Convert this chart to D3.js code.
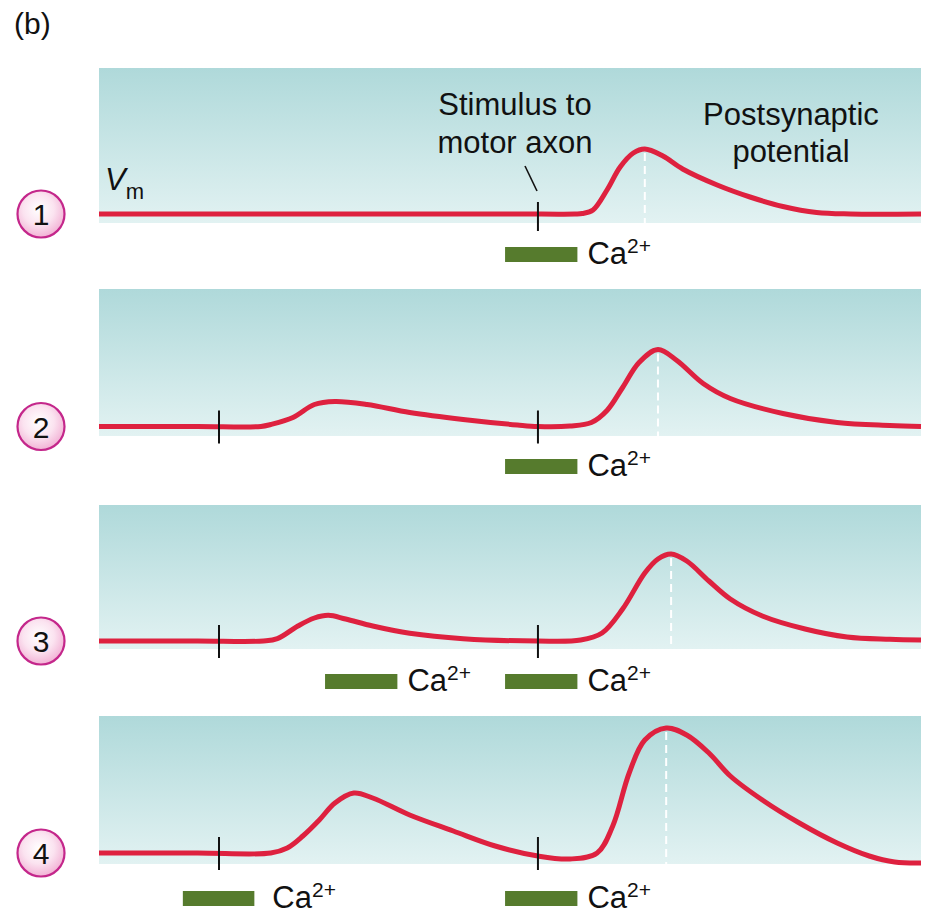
<!DOCTYPE html>
<html><head><meta charset="utf-8">
<script src="https://cdn.jsdelivr.net/npm/d3@7"></script>
<style>
body{margin:0;background:#fff}
svg{display:block}
text{font-family:"Liberation Sans",Arial,Helvetica,sans-serif;fill:#111}
</style>
</head><body>
<svg id="chart" width="926" height="914"></svg>
<script>
// ---------- DATA ----------
const panelIds = [1, 2, 3, 4];
// membrane potential traces: time (a.u., 0-100) and Vm (a.u. above rest)
const t1 = [0, 50, 57.9, 58.8, 60.1, 61.8, 63.4, 65.0, 66.4, 68.6, 71.0, 75.2, 79.2, 83.2, 87.3, 91.4, 100];
const v1 = [0, 0, 0, 0.05, 0.4, 2.4, 4.7, 6.1, 6.5, 5.8, 4.5, 2.9, 1.7, 0.75, 0.15, 0, 0];
const t2 = [0, 12, 19.7, 20.9, 23.6, 26.2, 28.7, 32.6, 37.8, 44.3, 50.9, 53.4, 57.3, 59.9, 61.8, 63.7, 65.7, 68.0, 70.3, 73.5, 76.8, 83.2, 89.8, 96.2, 100];
const v2 = [0, 0, 0, 0.2, 0.9, 2.2, 2.5, 2.2, 1.4, 0.7, 0.15, 0, 0.05, 0.4, 1.6, 3.9, 6.4, 7.7, 6.6, 4.3, 2.8, 1.3, 0.4, 0.1, 0];
const t3 = [0, 12, 20.0, 21.7, 24.2, 26.2, 27.9, 30.0, 33.3, 37.8, 44.3, 53.4, 58.6, 61.2, 63.7, 66.4, 68.0, 69.6, 71.5, 74.2, 76.8, 80.7, 85.9, 91.0, 96.2, 100];
const v3 = [0, 0, 0, 0.23, 1.5, 2.3, 2.57, 2.2, 1.5, 0.77, 0.23, 0, 0.1, 0.8, 3.2, 6.8, 8.2, 8.7, 8.0, 6.0, 4.2, 2.5, 1.2, 0.4, 0.17, 0.1];
const t4 = [0, 12, 20.9, 22.9, 24.8, 26.8, 28.7, 31.0, 33.3, 37.8, 43.1, 48.2, 53.4, 57.3, 60.6, 62.5, 64.5, 66.4, 69.0, 71.5, 74.2, 76.8, 80.7, 85.2, 89.8, 93.7, 96.8, 100];
const v4 = [0, 0, 0, 0.5, 1.7, 3.3, 5.0, 6.0, 5.5, 3.8, 2.2, 0.7, -0.3, -0.6, 0, 2.7, 8.0, 11.3, 12.5, 11.8, 10.0, 7.7, 5.3, 3.0, 1.0, -0.3, -0.9, -1.0];
const traceT = [t1, t2, t3, t4];
const traceV = [v1, v2, v3, v4];
// peak time of the postsynaptic potential (dashed marker)
const peakT = [66.4, 68.0, 69.6, 69.0];
// stimulus times (ticks)
const stimT = [[53.4], [14.6, 53.4], [14.6, 53.4], [14.6, 53.4]];
// Ca2+ application windows
const caStart = [[49.4], [49.4], [27.5, 49.4], [10.2, 49.4]];
const caEnd = [[58.2], [58.2], [36.3, 58.2], [18.9, 58.2]];
const caLabel = "Ca";
const caSup = "2+";

// ---------- LAYOUT ----------
const left = 99, right = 921;
const panelTop = [68, 289, 505, 716];
const panelBottom = [223, 436, 649, 864];
const baseY = [214, 426.5, 641, 853];
const barY = [247, 459, 674, 891];
const unitPx = 10;
const fs = 31;

const svg = d3.select("#chart");
const defs = svg.append("defs");
const bg = defs.append("linearGradient").attr("id", "bg").attr("x1", 0).attr("y1", 0).attr("x2", 0).attr("y2", 1);
bg.append("stop").attr("offset", "0%").attr("stop-color", "#afd9da");
bg.append("stop").attr("offset", "100%").attr("stop-color", "#e2f2f2");
const cg = defs.append("radialGradient").attr("id", "cg").attr("cx", "45%").attr("cy", "40%").attr("r", "60%");
cg.append("stop").attr("offset", "0%").attr("stop-color", "#ffffff");
cg.append("stop").attr("offset", "55%").attr("stop-color", "#fbe3f0");
cg.append("stop").attr("offset", "100%").attr("stop-color", "#f2b2d5");

const x = d3.scaleLinear().domain([0, 100]).range([left, right]);

svg.append("text").attr("x", 14).attr("y", 34).attr("font-size", 30).text("(b)");

panelIds.forEach((id, i) => {
  const y = d3.scaleLinear().domain([0, 10]).range([baseY[i], baseY[i] - 10 * unitPx]);
  const g = svg.append("g");
  g.append("rect").attr("x", left).attr("y", panelTop[i])
    .attr("width", right - left).attr("height", panelBottom[i] - panelTop[i])
    .attr("fill", "url(#bg)");

  // dashed peak marker
  const pv = d3.max(traceV[i]);
  g.append("line").attr("x1", x(peakT[i])).attr("x2", x(peakT[i]))
    .attr("y1", y(pv) + 4).attr("y2", panelBottom[i])
    .attr("stroke", "#ffffff").attr("stroke-width", 2).attr("stroke-dasharray", "8,5");

  const pts = traceT[i].map((t, k) => [t, traceV[i][k]]);
  const line = d3.line().x(d => x(d[0])).y(d => y(d[1])).curve(d3.curveCatmullRom.alpha(0.5));
  g.append("path").attr("d", line(pts)).attr("fill", "none")
    .attr("stroke", "#de213f").attr("stroke-width", 5).attr("stroke-linejoin", "round");

  // stimulus ticks
  stimT[i].forEach(t => {
    g.append("line").attr("x1", x(t)).attr("x2", x(t))
      .attr("y1", baseY[i] - (i === 0 ? 12 : 16)).attr("y2", baseY[i] + 17)
      .attr("stroke", "#111").attr("stroke-width", 2);
  });

  // Ca2+ bars
  caStart[i].forEach((s, k) => {
    const e = caEnd[i][k];
    g.append("rect").attr("x", x(s)).attr("y", barY[i])
      .attr("width", x(e) - x(s)).attr("height", 15).attr("fill", "#567b2d");
    const gap = (x(s) < 250) ? 18 : 10;
    const tx = g.append("text").attr("x", x(e) + gap).attr("y", barY[i] + 17)
      .attr("font-size", fs).text(caLabel);
    tx.append("tspan").attr("dy", -11).attr("font-size", 21).text(caSup);
  });

  // numbered circle
  g.append("circle").attr("cx", 41).attr("cy", baseY[i]).attr("r", 23.5)
    .attr("fill", "url(#cg)").attr("stroke", "#c4278b").attr("stroke-width", 2.2);
  g.append("text").attr("x", 41).attr("y", baseY[i] + 11).attr("text-anchor", "middle")
    .attr("font-size", 30).text(id);
});

// annotations in panel 1
const vm = svg.append("text").attr("x", 105).attr("y", 190).attr("font-size", fs);
vm.append("tspan").attr("font-style", "italic").text("V");
vm.append("tspan").attr("dy", 9).attr("font-size", 22).text("m");

svg.append("text").attr("x", 515).attr("y", 115).attr("text-anchor", "middle").attr("font-size", fs).text("Stimulus to");
svg.append("text").attr("x", 515).attr("y", 153).attr("text-anchor", "middle").attr("font-size", fs).text("motor axon");
svg.append("line").attr("x1", 525).attr("y1", 166).attr("x2", 537).attr("y2", 191)
  .attr("stroke", "#111").attr("stroke-width", 1.6);
svg.append("text").attr("x", 791).attr("y", 125).attr("text-anchor", "middle").attr("font-size", fs).text("Postsynaptic");
svg.append("text").attr("x", 791).attr("y", 162).attr("text-anchor", "middle").attr("font-size", fs).text("potential");
</script>
</body></html>
